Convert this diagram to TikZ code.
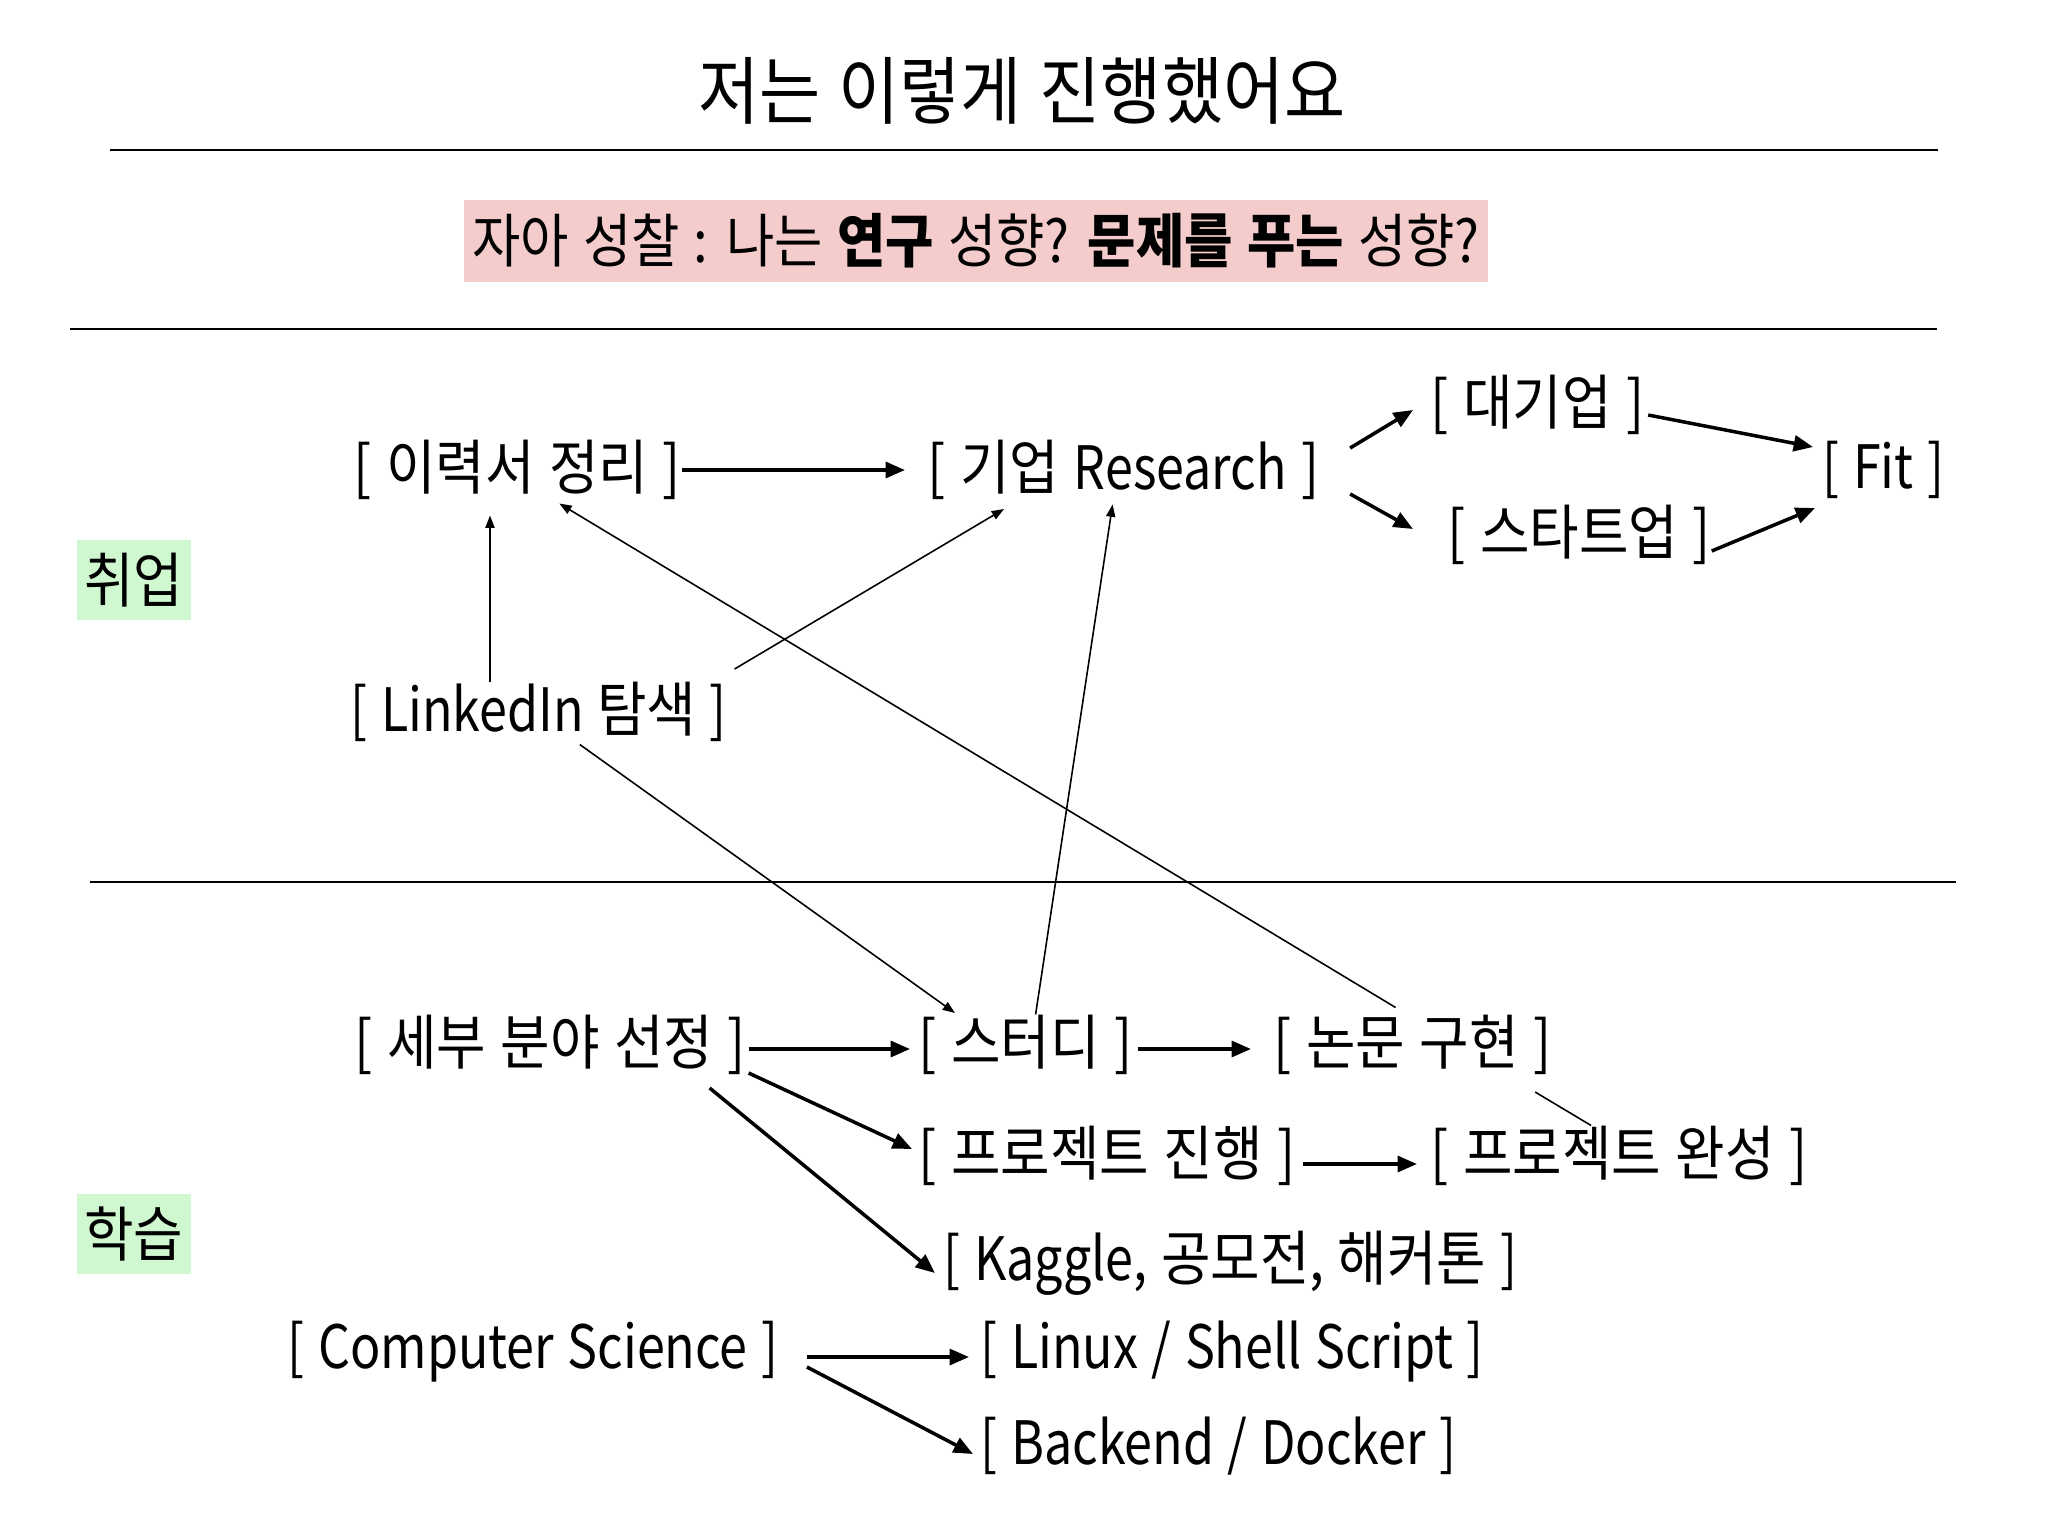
\documentclass[tikz,border=0pt]{standalone}
\usepackage{fontspec}
\setmainfont{Noto Sans CJK KR}[FakeStretch=0.9,WordSpace=1.2]
\newfontfamily\narrowfont{Noto Sans CJK KR}[FakeStretch=0.84,WordSpace=1.2]
\usepackage{tikz}
\usetikzlibrary{arrows.meta,calc}
\definecolor{pinkBox}{HTML}{F4CCCC}
\definecolor{greenTag}{HTML}{CFF7D0}

\begin{document}
\begin{tikzpicture}[x=0.01cm,y=-0.01cm,
  item/.style={anchor=west,inner sep=0pt,font=\fontsize{17}{20}\selectfont},
  tag/.style={fill=greenTag,minimum width=1.14cm,minimum height=0.8cm,inner sep=0pt,font=\fontsize{17}{20}\selectfont},
  boldArr/.style={line width=1pt,-{Triangle[length=5.5pt,width=4.5pt]}},
  thinArr/.style={line width=0.45pt,-{Triangle[length=3.5pt,width=2.6pt]}}]
\fill[white] (0,0) rectangle (2048,1536);
\useasboundingbox (0,0) rectangle (2048,1536);
\node[font=\fontsize{21}{25}\selectfont] (title) at (1022,91) {저는 이렇게 진행했어요};
\foreach \y/\a/\b in {150/110/1938,329/70/1937,882/90/1956}
  \draw[line width=0.5pt] (\a,\y) -- (\b,\y);
\node[fill=pinkBox,minimum width=10.24cm,minimum height=0.82cm,inner sep=0pt,
  font=\fontsize{16.6}{20}\selectfont] (self) at (976,241)
  {자아 성찰 : 나는 \textbf{연구} 성향? \textbf{문제를 푸는} 성향?};
\node[tag] (job) at (134,580) {취업};
\node[tag] (learn) at (134,1234) {학습};
% job search side
\foreach \n/\x/\y/\t in {cv/353/470/{[ 이력서 정리 ]},res/927/470/{[ 기업 {\narrowfont Research} ]},
    big/1430/405/{[ 대기업 ]},start/1447/535/{[ 스타트업 ]},fit/1822/470/{\narrowfont [ Fit ]},
    lnk/350/712/{\narrowfont [ LinkedIn {\normalfont 탐색} ]},
    field/354/1045/{[ 세부 분야 선정 ]},study/918/1045/{[ 스터디 ]},paper/1273/1045/{[ 논문 구현 ]},
    proj/918/1156/{[ 프로젝트 진행 ]},done/1430/1156/{[ 프로젝트 완성 ]},
    kag/943/1263/{\narrowfont [ Kaggle, {\normalfont 공모전,} {\normalfont 해커톤} ]},
    cs/287/1352/{\narrowfont [ Computer Science ]},
    linux/980/1352/{\narrowfont [ Linux / Shell Script ]},back/980/1446/{\narrowfont [ Backend / Docker ]}}
  \node[item] (\n) at (\x,\y) {\t};
\coordinate (lnkTop) at ($(lnk.north west)+(140,0)$);
\draw[boldArr] (cv.east) -- ($(res.west)+(-22,0)$);
\draw[boldArr] ($(res.east)+(30,-22)$) -- ($(big.west)+(-17,5)$);
\draw[boldArr] ($(res.east)+(30,24)$) -- ($(start.west)+(-34,-6)$);
\draw[boldArr] ($(big.east)+(3,10)$) -- ($(fit.west)+(-9,-23)$);
\draw[boldArr] ($(start.east)+(0,16)$) -- ($(fit.west)+(-7,38)$);
\draw[thinArr] (lnkTop) -- ($(lnkTop |- cv.south)+(0,15)$);
\draw[thinArr] ($(lnk.east)+(7,-43)$) -- ($(res.west)+(77,39)$);
\draw[thinArr] ($(lnk.south)+(41,2)$) -- ($(study.west)+(37,-32)$);
\draw[thinArr] ($(study.north)+(10,0)$) -- ($(res.south)+(-11,4)$);
\draw[thinArr] ($(paper.north)+(-17,-7)$) -- ($(cv.south)+(42,3)$);
\draw[line width=0.45pt] ($(paper.east)+(-17,47)$) -- ($(done.north)+(-28,0)$);
% study side
\draw[boldArr] ($(field.east)+(2,4)$) -- ($(study.west)+(-8,4)$);
\draw[boldArr] ($(study.east)+(5,4)$) -- ($(paper.west)+(-22,4)$);
\draw[boldArr] ($(field.east)+(2,28)$) -- ($(proj.west)+(-6,-7)$);
\draw[boldArr] ($(field.east)+(-37,43)$) -- ($(kag.west)+(-8,10)$);
\draw[boldArr] ($(proj.east)+(7,8)$) -- ($(done.west)+(-13,8)$);
\draw[boldArr] ($(cs.east)+(28,5)$) -- ($(linux.west)+(-11,5)$);
\draw[boldArr] ($(cs.east)+(28,15)$) -- ($(back.west)+(-7,8)$);
\end{tikzpicture}
\end{document}
